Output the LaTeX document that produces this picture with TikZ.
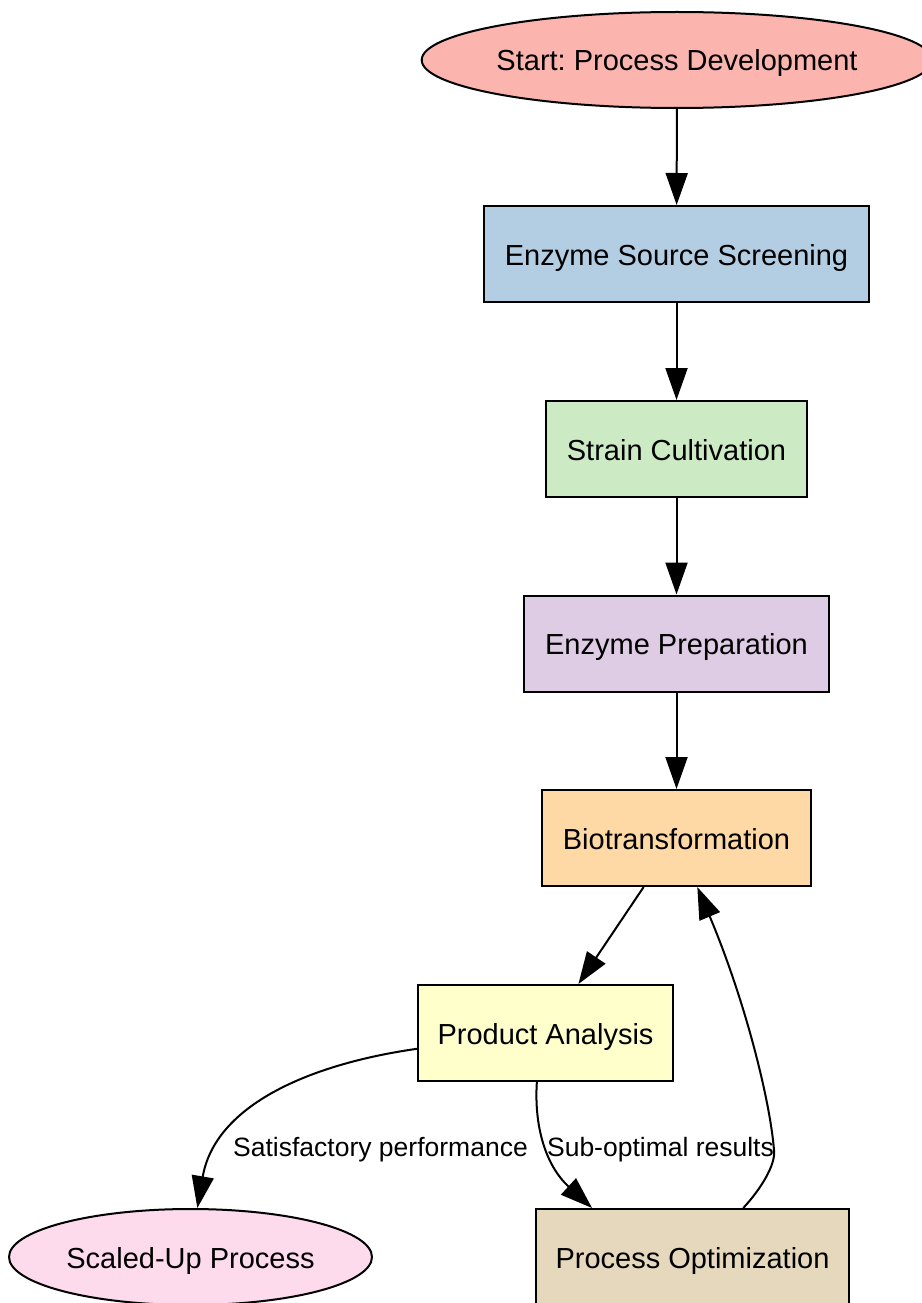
\documentclass[tikz,border=0pt]{standalone}
\usepackage{fontspec}
\setmainfont{Liberation Sans}
\usepackage{tikz}
\usetikzlibrary{shapes.geometric,arrows.meta}
\definecolor{startcol}{HTML}{FBB4AE}
\definecolor{screencol}{HTML}{B3CDE3}
\definecolor{cultcol}{HTML}{CCEBC5}
\definecolor{prepcol}{HTML}{DECBE4}
\definecolor{biocol}{HTML}{FED9A6}
\definecolor{anacol}{HTML}{FFFFCC}
\definecolor{scalecol}{HTML}{FDDAEC}
\definecolor{optcol}{HTML}{E5D8BD}
\frenchspacing

\begin{document}
\begin{tikzpicture}[x=1pt,y=-1pt]
\tikzstyle{every node}+=[inner sep=0pt]
\tikzstyle{stepbox}=[draw=black, line width=2pt, rectangle, minimum height=96pt, text height=22pt, text depth=0pt, font=\fontsize{29}{34}\selectfont]
\tikzstyle{endnode}=[draw=black, line width=2pt, ellipse, minimum height=96pt, text height=22pt, text depth=0pt, font=\fontsize{29}{34}\selectfont]
\tikzstyle{flow}=[black, line width=2pt, -{Triangle[length=32pt,width=22pt]}]
\tikzstyle{edgelabel}=[text height=20pt, text depth=0pt, font=\fontsize{26.5}{31}\selectfont]
\useasboundingbox (0,0) rectangle (921,1303);
\node [endnode, fill=startcol, minimum width=504pt] (start) at (677,60) {Start: Process Development};
\node [stepbox, fill=screencol, minimum width=385pt] (screen) at (676.5,254) {Enzyme Source Screening};
\node [stepbox, fill=cultcol, minimum width=261pt] (cult) at (676.5,449) {Strain Cultivation};
\node [stepbox, fill=prepcol, minimum width=305pt] (prep) at (676.5,643.5) {Enzyme Preparation};
\node [stepbox, fill=biocol, minimum width=269pt] (bio) at (676.5,838) {Biotransformation};
\node [stepbox, fill=anacol, minimum width=255pt] (ana) at (545.5,1033) {Product Analysis};
\node [endnode, fill=scalecol, minimum width=363pt] (scaled) at (190.5,1257) {Scaled-Up Process};
\node [stepbox, fill=optcol, minimum width=313pt] (opt) at (692.5,1257) {Process Optimization};
\draw [flow] (start) -- (screen);
\draw [flow] (screen) -- (cult);
\draw [flow] (cult) -- (prep);
\draw [flow] (prep) -- (bio);
\draw [flow] (bio) -- (ana);
\draw [flow] (ana.187) .. controls (310,1064) and (215,1105) .. (scaled.82);
\node [edgelabel] (satlabel) at (380.5,1146) {Satisfactory performance};
\draw [flow] (ana.260) .. controls (534,1125) and (545,1165) .. (opt.154.5);
\node [edgelabel] (sublabel) at (660.5,1146) {Sub-optimal results};
\draw [flow] (opt.44) .. controls (760,1190) and (776,1165) .. (774,1150) .. controls (770,1100) and (745,1000) .. (bio.293);
\end{tikzpicture}
\end{document}
